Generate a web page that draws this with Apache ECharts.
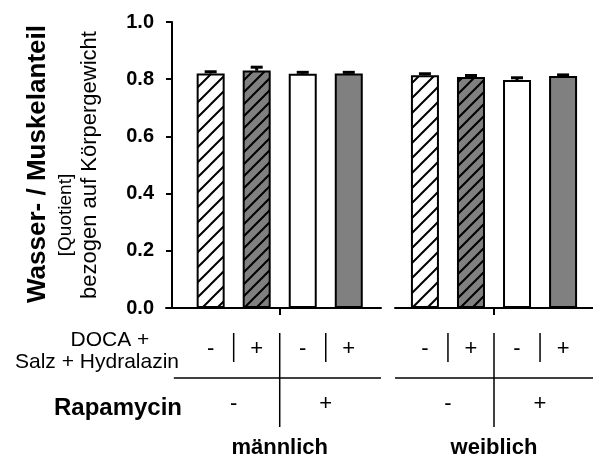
<!DOCTYPE html>
<html>
<head>
    <meta charset="utf-8">
    <title>Wasser- / Muskelanteil</title>
    <script src="https://cdn.jsdelivr.net/npm/echarts@6/dist/echarts.min.js"></script>
    <style>
        html, body { margin: 0; padding: 0; background: #fff; }
        #chart1 { width: 593px; height: 460px; }
    </style>
</head>
<body>
<div id="chart1"></div>
<script type="text/javascript">
    // Daten
    var groups = ['männlich', 'weiblich'];
    var docaLabels = ['-', '+', '-', '+'];
    var rapaLabels = ['-', '+'];
    var maleMean = [0.820, 0.830, 0.819, 0.820];
    var maleSem = [0.006, 0.012, 0.005, 0.004];
    var femaleMean = [0.814, 0.808, 0.797, 0.811];
    var femaleSem = [0.005, 0.005, 0.008, 0.004];
    var yTicks = [0, 0.2, 0.4, 0.6, 0.8, 1.0];

    var FONT = '"Liberation Sans", Arial, sans-serif';

    // Schraffur als Canvas-Muster
    function hatch(bg, size) {
        var c = document.createElement('canvas');
        c.width = size; c.height = size;
        var ctx = c.getContext('2d');
        ctx.fillStyle = bg;
        ctx.fillRect(0, 0, size, size);
        ctx.strokeStyle = '#000';
        ctx.lineWidth = 2;
        ctx.beginPath();
        ctx.moveTo(0, size); ctx.lineTo(size, 0);
        ctx.moveTo(-2, 2); ctx.lineTo(2, -2);
        ctx.moveTo(size - 2, size + 2); ctx.lineTo(size + 2, size - 2);
        ctx.stroke();
        return { image: c, repeat: 'repeat' };
    }
    var fills = [hatch('#fff', 15), hatch('#808080', 12), '#fff', '#808080'];

    function barData(means) {
        return means.map(function (v, i) {
            return { value: [i + 1, v], itemStyle: { color: fills[i] } };
        });
    }
    function errData(means, sems) {
        return means.map(function (v, i) { return [i + 1, v, sems[i]]; });
    }
    function renderErr(params, api) {
        var x = api.value(0), m = api.value(1), e = api.value(2);
        var base = api.coord([x, m]);
        var top = api.coord([x, m + e]);
        var st = { stroke: '#000', lineWidth: 3 };
        return {
            type: 'group',
            children: [
                { type: 'line', shape: { x1: base[0], y1: base[1], x2: top[0], y2: top[1] }, style: st },
                { type: 'line', shape: { x1: top[0] - 6, y1: top[1], x2: top[0] + 6, y2: top[1] }, style: st }
            ]
        };
    }

    function xAxisFor(grid, min, max) {
        return {
            type: 'value', gridIndex: grid, min: min, max: max,
            splitLine: { show: false },
            axisLine: { lineStyle: { color: '#000', width: 2 } },
            axisTick: { customValues: [2.5], length: 7, lineStyle: { color: '#000', width: 2 } },
            axisLabel: { show: false, customValues: [2.5] }
        };
    }

    var chart = echarts.init(document.getElementById('chart1'));
    chart.setOption({
        animation: false,
        backgroundColor: '#fff',
        grid: [
            { left: 166, top: 22, width: 215, height: 286 },
            { left: 395, top: 22, width: 198, height: 286 }
        ],
        xAxis: [xAxisFor(0, 0.03, 4.7), xAxisFor(1, 0.35, 4.65)],
        yAxis: [
            {
                type: 'value', gridIndex: 0, min: 0, max: 1, offset: -6,
                splitLine: { show: false },
                axisLine: { show: true, onZero: false, lineStyle: { color: '#000', width: 2 } },
                axisTick: { show: true, customValues: yTicks, length: 6, lineStyle: { color: '#000', width: 2 } },
                axisLabel: {
                    customValues: yTicks, margin: 18, color: '#000',
                    fontFamily: FONT, fontWeight: 'bold', fontSize: 20,
                    formatter: function (v) { return v.toFixed(1); }
                }
            },
            { type: 'value', gridIndex: 1, min: 0, max: 1, show: false }
        ],
        series: [
            {
                type: 'bar', xAxisIndex: 0, yAxisIndex: 0, barWidth: 28,
                itemStyle: { borderColor: '#000', borderWidth: 2 },
                data: barData(maleMean)
            },
            {
                type: 'bar', xAxisIndex: 1, yAxisIndex: 1, barWidth: 28,
                itemStyle: { borderColor: '#000', borderWidth: 2 },
                data: barData(femaleMean)
            },
            { type: 'custom', xAxisIndex: 0, yAxisIndex: 0, z: 5, renderItem: renderErr, data: errData(maleMean, maleSem) },
            { type: 'custom', xAxisIndex: 1, yAxisIndex: 1, z: 5, renderItem: renderErr, data: errData(femaleMean, femaleSem) }
        ]
    });

    // Tabelle unter der Achse, an den Achsen ausgerichtet
    function px(g, x) { return chart.convertToPixel({ gridIndex: g }, [x, 0])[0]; }
    function txt(x, y, s, size, bold, align, rot) {
        return {
            type: 'text', x: x, y: y, rotation: rot || 0,
            style: {
                text: s, fill: '#000', textAlign: align || 'center', textVerticalAlign: 'middle',
                font: (bold ? 'bold ' : '') + size + 'px ' + FONT
            }
        };
    }
    function ln(x1, y1, x2, y2) {
        return { type: 'line', shape: { x1: x1, y1: y1, x2: x2, y2: y2 }, style: { stroke: '#000', lineWidth: 1.5 } };
    }

    var g = [];
    [[0, 0.2, 4.7], [1, 0.35, 4.65]].forEach(function (d, gi) {
        var grid = d[0];
        docaLabels.forEach(function (s, i) { g.push(txt(px(grid, i + 1), 349, s, 22)); });
        rapaLabels.forEach(function (s, i) { g.push(txt(px(grid, i * 2 + 1.5), 404, s, 22)); });
        g.push(ln(px(grid, 1.5), 333, px(grid, 1.5), 362));
        g.push(ln(px(grid, 3.5), 333, px(grid, 3.5), 362));
        g.push(ln(px(grid, 2.5), 333, px(grid, 2.5), 427));
        g.push(ln(px(grid, d[1]), 378, px(grid, d[2]), 378));
        g.push(txt(px(grid, 2.5), 448, groups[gi], 22, true));
    });
    g.push(txt(110, 340, 'DOCA +', 21));
    g.push(txt(97, 362, 'Salz + Hydralazin', 21));
    g.push(txt(182, 408, 'Rapamycin', 24, true, 'right'));
    // Achsentitel
    g.push(txt(38, 164, 'Wasser- / Muskelanteil', 26, true, 'center', Math.PI / 2));
    g.push(txt(66, 215, '[Quotient]', 19, false, 'center', Math.PI / 2));
    g.push(txt(90, 165, 'bezogen auf Körpergewicht', 22, false, 'center', Math.PI / 2));
    chart.setOption({ graphic: g });
</script>
</body>
</html>
